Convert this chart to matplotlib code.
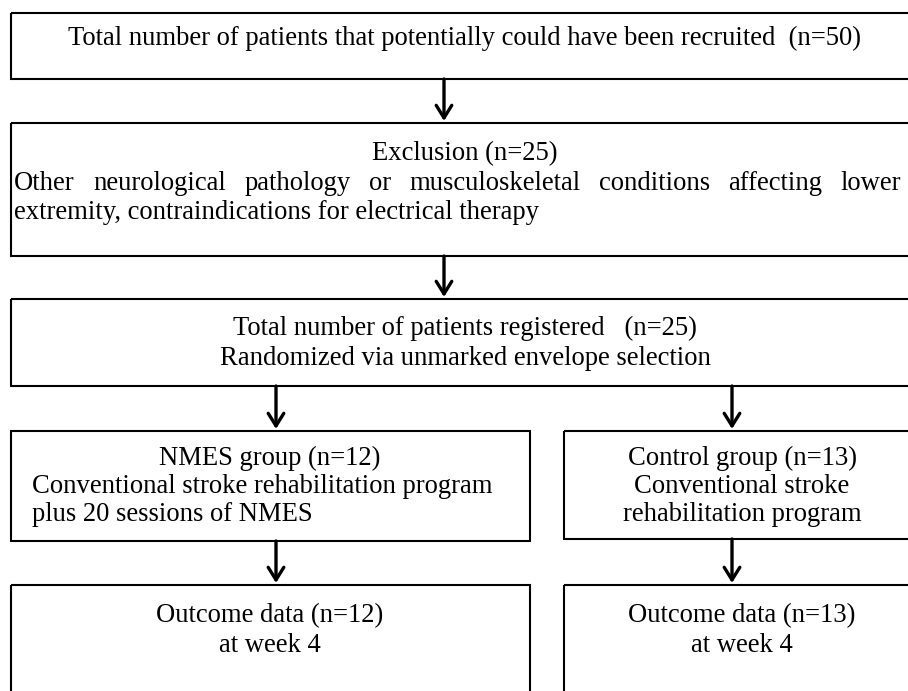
import matplotlib.pyplot as plt
from matplotlib.patches import Rectangle, FancyArrowPatch

plt.rcParams['font.family'] = ['Liberation Serif', 'DejaVu Serif']

# box texts
recruit_text = "Total number of patients that potentially could have been recruited  (n=50)"
excl_title = "Exclusion (n=25)"
excl_lines = ["Other neurological pathology or musculoskeletal conditions affecting lower",
              "extremity, contraindications for electrical therapy"]
reg_lines = ["Total number of patients registered   (n=25)",
             "Randomized via unmarked envelope selection"]
nmes_title = "NMES group (n=12)"
nmes_lines = ["Conventional stroke rehabilitation program", "plus 20 sessions of NMES"]
ctrl_lines = ["Control group (n=13)", "Conventional stroke", "rehabilitation program"]
out_nmes = ["Outcome data (n=12)", "at week 4"]
out_ctrl = ["Outcome data (n=13)", "at week 4"]

FS = 19.2
W, H = 908, 691

fig = plt.figure(figsize=(W / 100, H / 100), dpi=100)
ax = fig.add_axes([0, 0, 1, 1])
ax.set_xlim(0, W)
ax.set_ylim(H, 0)
ax.axis('off')
renderer = fig.canvas.get_renderer()


def box(x0, y0, x1, y1):
    ax.add_patch(Rectangle((x0, y0), x1 - x0, y1 - y0, fill=False,
                           edgecolor='black', lw=1.5, clip_on=True))


def arrow(x, y0, y1):
    ax.add_patch(FancyArrowPatch((x, y0), (x, y1),
                                 arrowstyle='->,head_length=0.45,head_width=0.28',
                                 mutation_scale=20, lw=2.4, color='black',
                                 shrinkA=0, shrinkB=0))


def center_lines(lines, xc, ys):
    for s, y in zip(lines, ys):
        ax.text(xc, y, s, ha='center', va='baseline', fontsize=FS)


def justify(line, x0, x1, y):
    # spread the words so the line fills the box width
    words = line.split()
    texts = [ax.text(0, y, w, ha='left', va='baseline', fontsize=FS) for w in words]
    widths = [t.get_window_extent(renderer).width for t in texts]
    gap = (x1 - x0 - sum(widths)) / (len(words) - 1)
    x = x0
    for t, w in zip(texts, widths):
        t.set_x(x)
        x += w + gap


# boxes
box(11, 13, 918, 79)
box(11, 123, 918, 256)
box(11, 299, 918, 386)
box(11, 431, 530, 541)
box(564, 431, 920, 539)
box(11, 585, 530, 720)
box(564, 585, 920, 720)

# arrows
arrow(444, 79, 121)
arrow(444, 256, 297)
arrow(276, 386, 429)
arrow(732, 386, 429)
arrow(276, 541, 583)
arrow(732, 539, 583)

# text
center_lines([recruit_text], 465, [45])
center_lines([excl_title], 465, [160])
justify(excl_lines[0], 14, 901, 190)
ax.text(14, 219, excl_lines[1], ha='left', va='baseline', fontsize=FS)
center_lines(reg_lines, 465, [335, 365])
center_lines([nmes_title], 270, [465])
for s, y in zip(nmes_lines, [493, 521]):
    ax.text(32, y, s, ha='left', va='baseline', fontsize=FS)
center_lines(ctrl_lines, 742, [465, 493, 521])
center_lines(out_nmes, 270, [622, 652])
center_lines(out_ctrl, 742, [622, 652])

fig.savefig('out.png', dpi=100)
